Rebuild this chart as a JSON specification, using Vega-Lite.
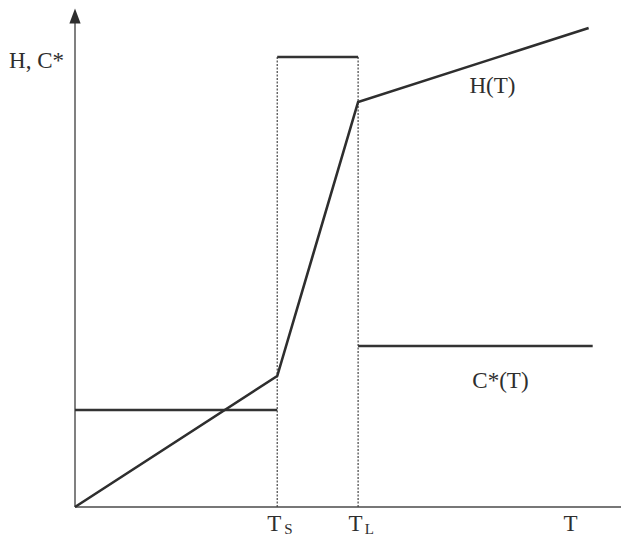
{
  "$schema": "https://vega.github.io/schema/vega-lite/v6.json",
  "width": 546,
  "height": 500,
  "autosize": "none",
  "padding": {"left": 75, "top": 7, "right": 0, "bottom": 35},
  "background": "white",
  "config": {"view": {"stroke": null}, "font": "Liberation Serif"},
  "datasets": {
    "axes": [
      {"x": 0, "x2": 27, "y": 0, "y2": 0},
      {"x": 0, "x2": 0, "y": 0, "y2": 49.6}
    ],
    "arrow": [{"T": 0, "H": 49.1}],
    "guides": [
      {"T": 10, "bottom": 0, "top": 45},
      {"T": 14, "bottom": 0, "top": 45}
    ],
    "cstar": [
      {"T0": 0, "T1": 10, "C": 9.7},
      {"T0": 10, "T1": 14, "C": 45},
      {"T0": 14, "T1": 25.6, "C": 16.1}
    ],
    "enthalpy": [
      {"T": 0, "H": 0},
      {"T": 10, "H": 13.1},
      {"T": 14, "H": 40.5},
      {"T": 25.4, "H": 47.9}
    ],
    "labels": [
      {"label": "H, C*", "T": -1.9, "H": 43.9},
      {"label": "H(T)", "T": 20.64, "H": 41.4},
      {"label": "C*(T)", "T": 21.04, "H": 11.9}
    ],
    "ticks": [
      {"label": "T", "T": 9.85, "H": -2.35},
      {"label": "T", "T": 13.87, "H": -2.35},
      {"label": "T", "T": 24.5, "H": -2.35}
    ],
    "subs": [
      {"label": "S", "T": 10.55, "H": -2.7},
      {"label": "L", "T": 14.55, "H": -2.7}
    ]
  },
  "layer": [
    {
      "data": {"name": "axes"},
      "mark": {"type": "rule", "color": "#4a4a4a", "strokeWidth": 1.4},
      "encoding": {
        "x": {"field": "x", "type": "quantitative", "axis": null, "scale": {"domain": [0, 27], "nice": false}},
        "x2": {"field": "x2"},
        "y": {"field": "y", "type": "quantitative", "axis": null, "scale": {"domain": [0, 50], "nice": false}},
        "y2": {"field": "y2"}
      }
    },
    {
      "data": {"name": "arrow"},
      "mark": {"type": "point", "shape": "M0,-1L0.75,1L-0.75,1Z", "filled": true, "color": "#2e2e2e", "size": 225, "opacity": 1},
      "encoding": {
        "x": {"field": "T", "type": "quantitative", "axis": null},
        "y": {"field": "H", "type": "quantitative", "axis": null}
      }
    },
    {
      "data": {"name": "guides"},
      "mark": {"type": "rule", "color": "#444444", "strokeWidth": 1.2, "strokeDash": [2, 1.5]},
      "encoding": {
        "x": {"field": "T", "type": "quantitative", "axis": null},
        "y": {"field": "bottom", "type": "quantitative", "axis": null},
        "y2": {"field": "top"}
      }
    },
    {
      "data": {"name": "cstar"},
      "mark": {"type": "rule", "color": "#333333", "strokeWidth": 2.3},
      "encoding": {
        "x": {"field": "T0", "type": "quantitative", "axis": null},
        "x2": {"field": "T1"},
        "y": {"field": "C", "type": "quantitative", "axis": null}
      }
    },
    {
      "data": {"name": "enthalpy"},
      "mark": {"type": "line", "color": "#2e2e2e", "strokeWidth": 2.6},
      "encoding": {
        "x": {"field": "T", "type": "quantitative", "axis": null},
        "y": {"field": "H", "type": "quantitative", "axis": null},
        "order": {"field": "T", "type": "quantitative"}
      }
    },
    {
      "data": {"name": "labels"},
      "mark": {"type": "text", "fontSize": 23, "color": "#2e2e2e", "align": "center", "baseline": "alphabetic"},
      "encoding": {
        "x": {"field": "T", "type": "quantitative", "axis": null},
        "y": {"field": "H", "type": "quantitative", "axis": null},
        "text": {"field": "label", "type": "nominal"}
      }
    },
    {
      "data": {"name": "ticks"},
      "mark": {"type": "text", "fontSize": 23, "color": "#2e2e2e", "align": "center", "baseline": "alphabetic"},
      "encoding": {
        "x": {"field": "T", "type": "quantitative", "axis": null},
        "y": {"field": "H", "type": "quantitative", "axis": null},
        "text": {"field": "label", "type": "nominal"}
      }
    },
    {
      "data": {"name": "subs"},
      "mark": {"type": "text", "fontSize": 15, "color": "#2e2e2e", "align": "center", "baseline": "alphabetic"},
      "encoding": {
        "x": {"field": "T", "type": "quantitative", "axis": null},
        "y": {"field": "H", "type": "quantitative", "axis": null},
        "text": {"field": "label", "type": "nominal"}
      }
    }
  ]
}
